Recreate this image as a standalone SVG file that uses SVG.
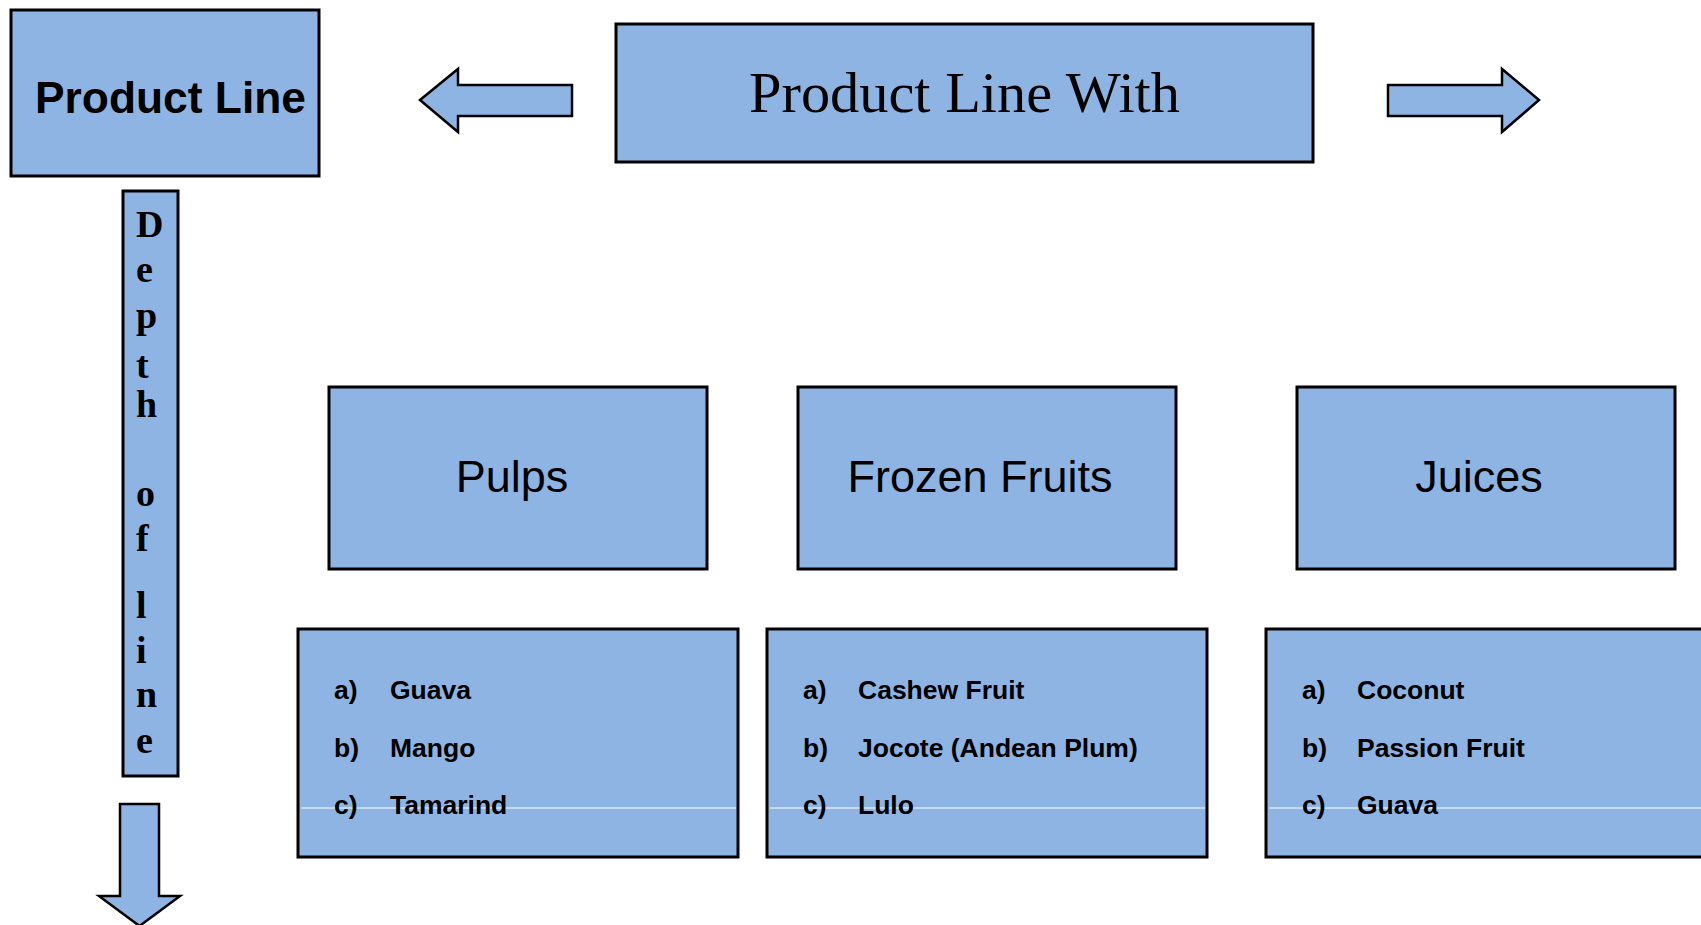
<svg xmlns="http://www.w3.org/2000/svg" width="1701" height="925" viewBox="0 0 1701 925">
  <style>
    .box { fill: #8EB4E3; stroke: #000; stroke-width: 3; }
    .arrow { fill: #8EB4E3; stroke: #000; stroke-width: 2.5; stroke-linejoin: miter; }
    .rule { stroke: #fff; stroke-width: 1.2; }
    .title { font-family: "Liberation Sans", Arial, sans-serif; font-weight: bold; font-size: 45px; fill: #000; }
    .serif { font-family: "Liberation Serif", "Times New Roman", serif; font-size: 57px; fill: #000; }
    .depth { font-family: "Liberation Serif", "Times New Roman", serif; font-weight: bold; font-size: 38px; fill: #000; }
    .cat { font-family: "Liberation Sans", Arial, sans-serif; font-size: 45px; fill: #000; text-anchor: middle; }
    .item { font-family: "Liberation Sans", Arial, sans-serif; font-weight: bold; font-size: 26.5px; fill: #000; }
  </style>

  <!-- Top-level boxes -->
  <g id="product-line">
    <rect class="box" x="11" y="10" width="308" height="166"/>
    <text class="title" x="35" y="113" textLength="271" lengthAdjust="spacingAndGlyphs">Product Line</text>
  </g>

  <g id="product-line-with">
    <rect class="box" x="616" y="24" width="697" height="138"/>
    <text class="serif" x="964.5" y="112" text-anchor="middle" textLength="431" lengthAdjust="spacingAndGlyphs">Product Line With</text>
  </g>

  <!-- Vertical label: one letter per line -->
  <g id="depth-of-line">
    <rect class="box" x="123" y="191" width="55" height="585"/>
    <g class="depth">
      <text x="136" y="237">D</text>
      <text x="136" y="282">e</text>
      <text x="136" y="328">p</text>
      <text x="136" y="378">t</text>
      <text x="136" y="417">h</text>
      <text x="136" y="506">o</text>
      <text x="136" y="551">f</text>
      <text x="136" y="618">l</text>
      <text x="136" y="663">i</text>
      <text x="136" y="707">n</text>
      <text x="136" y="753">e</text>
    </g>
  </g>

  <!-- Category boxes -->
  <g id="pulps">
    <rect class="box" x="329" y="387" width="378" height="182"/>
    <text class="cat" x="512" y="492">Pulps</text>
  </g>
  <g id="frozen-fruits">
    <rect class="box" x="798" y="387" width="378" height="182"/>
    <text class="cat" x="980" y="492">Frozen Fruits</text>
  </g>
  <g id="juices">
    <rect class="box" x="1297" y="387" width="378" height="182"/>
    <text class="cat" x="1479" y="492">Juices</text>
  </g>

  <!-- Item lists -->
  <g id="pulps-items">
    <rect class="box" x="298" y="629" width="440" height="228"/>
    <line class="rule" x1="301" y1="808" x2="736" y2="808"/>
    <g class="item">
      <text x="334" y="699">a)</text><text x="390" y="699">Guava</text>
      <text x="334" y="757">b)</text><text x="390" y="757">Mango</text>
      <text x="334" y="814">c)</text><text x="390" y="814">Tamarind</text>
    </g>
  </g>
  <g id="frozen-fruits-items">
    <rect class="box" x="767" y="629" width="440" height="228"/>
    <line class="rule" x1="770" y1="808" x2="1205" y2="808"/>
    <g class="item">
      <text x="803" y="699">a)</text><text x="858" y="699">Cashew Fruit</text>
      <text x="803" y="757">b)</text><text x="858" y="757">Jocote (Andean Plum)</text>
      <text x="803" y="814">c)</text><text x="858" y="814">Lulo</text>
    </g>
  </g>
  <g id="juices-items">
    <rect class="box" x="1266" y="629" width="440" height="228"/>
    <line class="rule" x1="1269" y1="808" x2="1701" y2="808"/>
    <g class="item">
      <text x="1302" y="699">a)</text><text x="1357" y="699">Coconut</text>
      <text x="1302" y="757">b)</text><text x="1357" y="757">Passion Fruit</text>
      <text x="1302" y="814">c)</text><text x="1357" y="814">Guava</text>
    </g>
  </g>

  <!-- Block arrows -->
  <g id="connectors">
    <polygon class="arrow" points="420,100 458,69 458,85 572,85 572,116 458,116 458,132"/>
    <polygon class="arrow" points="1388,85 1502,85 1502,69 1539,100 1502,132 1502,116 1388,116"/>
    <polygon class="arrow" points="120,804 159,804 159,896 180,896 139.5,926 99,896 120,896"/>
  </g>
</svg>
